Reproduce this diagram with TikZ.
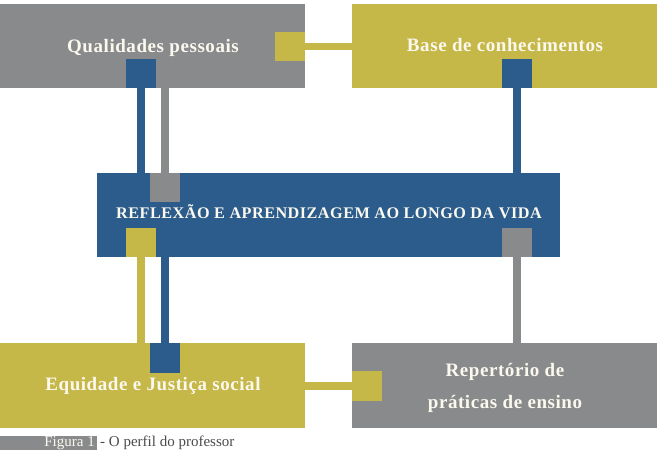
\documentclass[tikz,border=0pt]{standalone}
\usepackage{fontspec}
\setmainfont{Liberation Serif}
\definecolor{cgray}{HTML}{898A8C}
\definecolor{colive}{HTML}{C5B748}
\definecolor{cblue}{HTML}{2B5C8B}
\definecolor{ctext}{HTML}{FBF8EE}
\definecolor{capgray}{HTML}{4A4A4A}
\tikzset{
  bigbox/.style={draw=none, fill=#1, minimum width=305pt, minimum height=84pt, inner sep=0pt, anchor=center},
  sq/.style={draw=none, fill=#1, minimum width=30pt, minimum height=29pt, inner sep=0pt},
  link/.style={draw=#1, line width=7.5pt},
  lbl/.style={text=ctext, font=\bfseries\fontsize{19}{22}\selectfont\addfontfeatures{LetterSpace=3}, inner sep=0pt, anchor=base},
  caplbl/.style={text=ctext, font=\bfseries\fontsize{16.2}{19}\selectfont\addfontfeatures{LetterSpace=3}, inner sep=0pt, anchor=base}
}
\begin{document}
\begin{tikzpicture}[x=1pt,y=-1pt]
\useasboundingbox (0,0) rectangle (664,450);
% boxes
\node[bigbox=cgray] (qp) at (152.5,46) {};
\node[bigbox=colive] (base) at (504.5,46) {};
\node[bigbox=cblue, minimum width=463pt] (cen) at (328.5,215) {};
\node[bigbox=colive, minimum height=85pt] (eq) at (152.5,385.5) {};
\node[bigbox=cgray, minimum height=85pt] (rep) at (504.5,385.5) {};
% squares
\node[sq=colive] (s1) at (290,46.5) {};
\node[sq=cblue] (s2) at (141,73.5) {};
\node[sq=cblue] (s3) at (517,73.5) {};
\node[sq=cgray] (s4) at (165,187.5) {};
\node[sq=colive] (s5) at (141,242.5) {};
\node[sq=cgray] (s6) at (517,242.5) {};
\node[sq=cblue, minimum height=30pt] (s7) at (165,358) {};
\node[sq=colive, minimum height=30pt] (s8) at (367,386) {};
% connectors
\draw[link=colive] (s1.east) -- (s1.east -| base.west);
\draw[link=cblue] (s2.south) -- (s2.south |- cen.north);
\draw[link=cgray] (s4.north |- qp.south) -- (s4.north);
\draw[link=cblue] (s3.south) -- (s3.south |- cen.north);
\draw[link=colive] (s5.south) -- (s5.south |- eq.north);
\draw[link=cblue] (s7.north |- cen.south) -- (s7.north);
\draw[link=cgray] (s6.south) -- (s6.south |- rep.north);
\draw[link=colive] (s8.west -| eq.east) -- (s8.west);
% labels
\node[lbl] (tqp) at (153,52.5) {Qualidades pessoais};
\node[lbl] (tbase) at (505,51.7) {Base de conhecimentos};
\node[caplbl] (tcen) at (329,218.3) {REFLEXÃO E APRENDIZAGEM AO LONGO DA VIDA};
\node[lbl] (teq) at (153,390.7) {Equidade e Justiça social};
\node[lbl] (trep1) at (505,376.7) {Repertório de};
\node[lbl] (trep2) at (505,408) {práticas de ensino};
% caption
\fill[cgray] (0,436) rectangle (97,450);
\node[anchor=base east, text=ctext, font=\fontsize{15}{18}\selectfont, inner sep=0pt] (fig) at (95,446.6) {Figura 1};
\node[anchor=base west, text=capgray, font=\fontsize{15}{18}\selectfont, inner sep=0pt] (cap) at (100,446.6) {- O perfil do professor};
\end{tikzpicture}
\end{document}
